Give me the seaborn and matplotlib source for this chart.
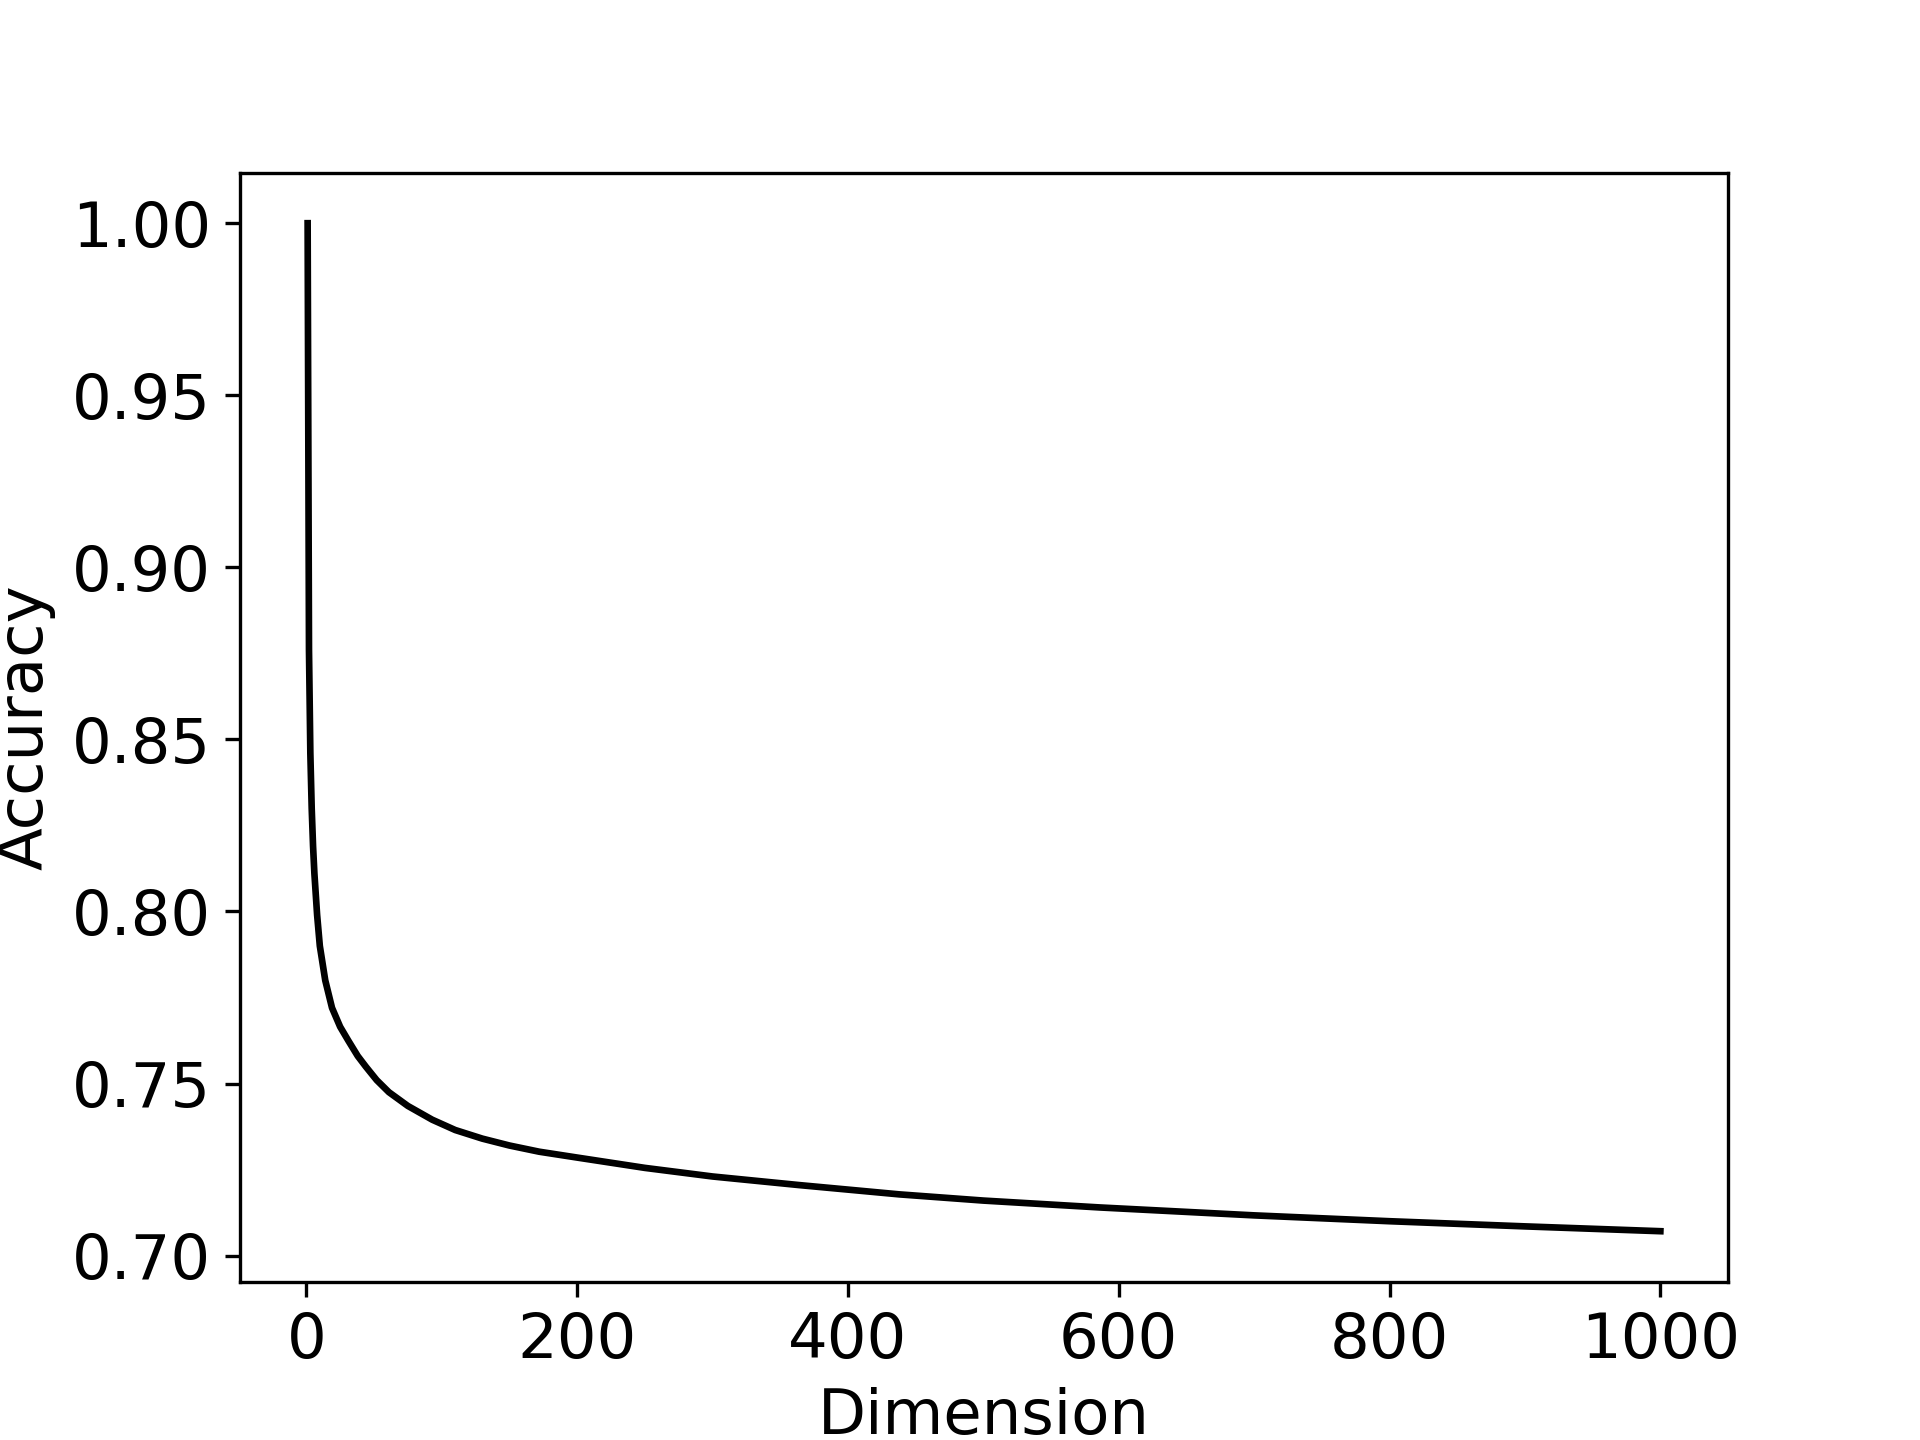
import matplotlib
matplotlib.use("Agg")
import matplotlib.pyplot as plt
import seaborn as sns
import pandas as pd

dimension = [1, 2, 3, 4, 5, 6, 7, 8, 10, 14, 19, 25, 31, 38, 44, 52, 61, 75,
             93, 110, 130, 150, 172, 200, 250, 300, 364, 438, 500, 586, 700,
             800, 900, 1000]
accuracy = [1.0, 0.876, 0.846, 0.830, 0.819, 0.811, 0.805, 0.799, 0.790,
            0.780, 0.772, 0.7665, 0.7625, 0.758, 0.7549, 0.751, 0.7475,
            0.7435, 0.7395, 0.7365, 0.734, 0.732, 0.7302, 0.7285, 0.7255,
            0.723, 0.7205, 0.7178, 0.716, 0.714, 0.7117, 0.7100, 0.7085,
            0.7071]

df = pd.DataFrame({"Dimension": dimension, "Accuracy": accuracy})

plt.rcParams["font.size"] = 15
fig, ax = plt.subplots(figsize=(6.4, 4.8), dpi=300)
sns.lineplot(data=df, x="Dimension", y="Accuracy", color="black", linewidth=1.6, ax=ax)
ax.set_xlabel("Dimension", fontsize=15)
ax.set_ylabel("Accuracy", fontsize=15)
fig.savefig("out.png", dpi=300)
